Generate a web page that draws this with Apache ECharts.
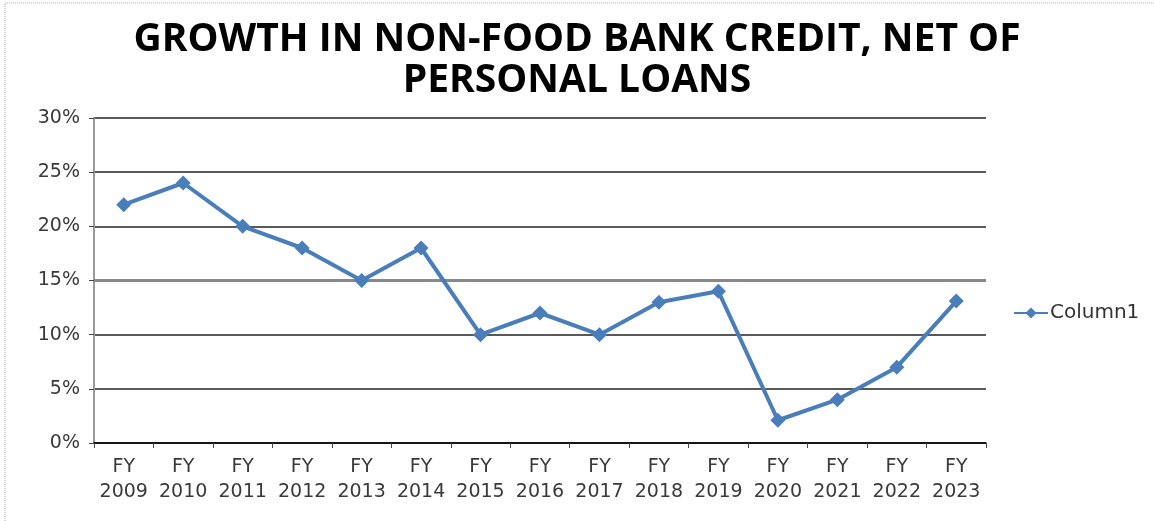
<!DOCTYPE html>
<html>
<head>
<meta charset="utf-8">
<script src="https://cdn.jsdelivr.net/npm/echarts@6/dist/echarts.min.js"></script>
<style>
  html, body { margin: 0; padding: 0; background: #fff; }
  #chart { width: 1154px; height: 521px; }
</style>
</head>
<body>
<div id="chart"></div>
<script>
// data
var years = ['2009', '2010', '2011', '2012', '2013', '2014', '2015', '2016',
             '2017', '2018', '2019', '2020', '2021', '2022', '2023'];
var growth = [22, 24, 20, 18, 15, 18, 10, 12, 10, 13, 14, 2.1, 4, 7, 13.1];
var yTicks = [0, 5, 10, 15, 20, 25, 30];

var myChart = echarts.init(document.getElementById('chart'));

var option = {
    backgroundColor: '#fff',
    // dotted frame of the original chart box
    graphic: [{
        type: 'rect',
        shape: { x: 5, y: 3, width: 1170, height: 540 },
        style: { fill: 'none', stroke: '#aaa', lineWidth: 1, lineDash: [1, 1] },
        silent: true
    }],
    title: {
        text: 'GROWTH IN NON-FOOD BANK CREDIT, NET OF\nPERSONAL LOANS',
        left: 'center',
        top: 14,
        textStyle: {
            fontFamily: 'Open Sans',
            fontWeight: 'bold',
            fontSize: 39,
            lineHeight: 41,
            color: '#000'
        }
    },
    legend: {
        left: 1008,
        top: 298,
        itemWidth: 34,
        itemHeight: 14,
        itemGap: 4,
        textStyle: { fontFamily: 'DejaVu Sans', fontSize: 20, color: '#333', padding: [0, 0, 0, -3] },
        data: ['Column1']
    },
    grid: { left: 94, right: 168, top: 118, bottom: 78 },
    xAxis: {
        type: 'category',
        data: years.map(function (y) { return 'FY\n' + y; }),
        boundaryGap: true,
        axisLine: { lineStyle: { color: '#000', width: 1.5 } },
        axisTick: { show: true, length: 5, lineStyle: { color: '#444' } },
        axisLabel: {
            fontFamily: 'DejaVu Sans', fontSize: 19, color: '#3a3a3a',
            lineHeight: 25, margin: 12, interval: 0
        }
    },
    yAxis: {
        type: 'value',
        min: yTicks[0],
        max: yTicks[yTicks.length - 1],
        interval: 5,
        axisLine: { show: true, lineStyle: { color: '#999', width: 2 } },
        axisTick: { show: true, length: 5, lineStyle: { color: '#444' } },
        axisLabel: {
            formatter: '{value}%',
            fontFamily: 'DejaVu Sans', fontSize: 19, color: '#3a3a3a', margin: 14
        },
        splitLine: { lineStyle: { color: '#222', width: 1.5 } }
    },
    series: [
        {
            name: 'Column1',
            type: 'line',
            data: growth,
            symbol: 'diamond',
            symbolSize: 15,
            color: '#4a7ebb',
            lineStyle: { width: 4, color: '#4a7ebb' },
            itemStyle: { color: '#4a7ebb' },
            markLine: {
                silent: true,
                symbol: 'none',
                label: { show: false },
                lineStyle: { color: '#888', width: 3, type: 'solid' },
                data: [{ yAxis: 15 }],
                z: 1
            },
            z: 3
        }
    ]
};

myChart.setOption(option);
</script>
</body>
</html>
